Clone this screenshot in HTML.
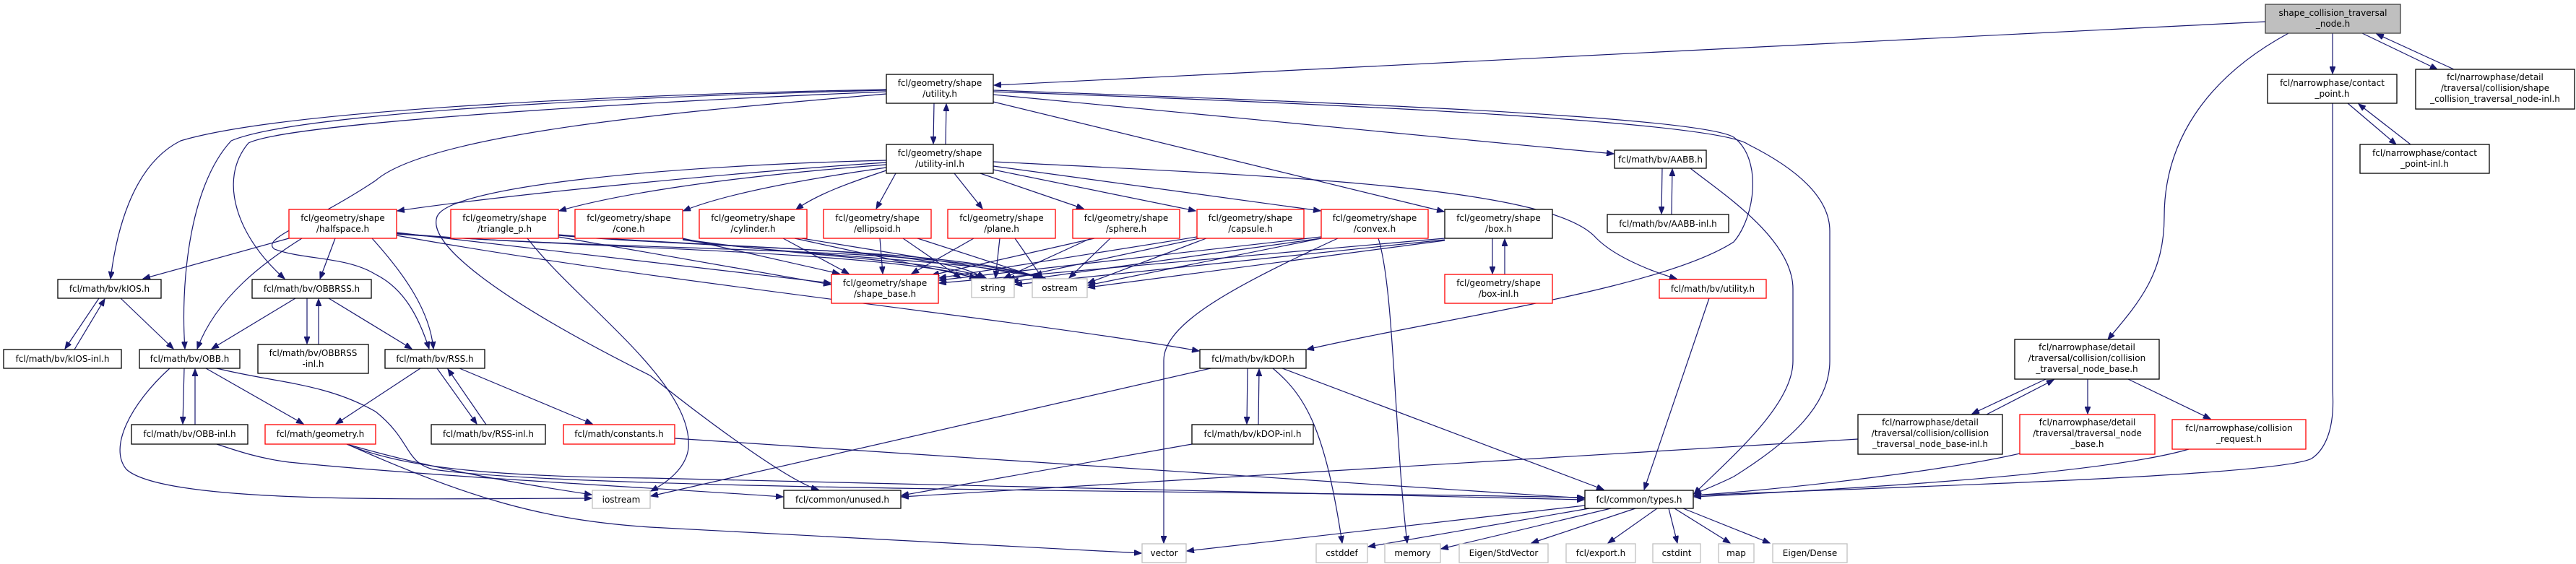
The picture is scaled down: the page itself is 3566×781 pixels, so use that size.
<!DOCTYPE html>
<html><head><meta charset="utf-8"><style>
html,body{margin:0;padding:0;background:#fff;}
svg{display:block;}
text{font-family:"DejaVu Sans","Liberation Sans",sans-serif;font-size:12px;fill:#000;text-anchor:middle;}
.e{fill:none;stroke:#191970;stroke-width:1.2;marker-end:url(#a);}
.b{fill:#fff;stroke:#000;stroke-width:1.3;}
.r{fill:#fff;stroke:#ff0000;stroke-width:1.3;}
.g{fill:#fff;stroke:#bfbfbf;stroke-width:1.3;}
</style></head><body>
<svg width="3566" height="781" viewBox="0 0 3566 781" xmlns="http://www.w3.org/2000/svg">
<defs><marker id="a" markerUnits="userSpaceOnUse" markerWidth="11" markerHeight="8" refX="10" refY="4" orient="auto"><path d="M0,0 L10,4 L0,8 z" fill="#191970" stroke="#191970"/></marker></defs>
<g>
<path class="e" d="M3136,30 L1376,118"/>
<path class="e" d="M3229,46 L3229,102"/>
<path class="e" d="M3270,46 L3374,96"/>
<path class="e" d="M3397,96 L3290,47"/>
<path class="e" d="M3168,46 C3050,110 2996,200 2996,300 C2996,380 2960,420 2918,470"/>
<path class="e" d="M3250,143 L3317,200"/>
<path class="e" d="M3337,200 L3265,144"/>
<path class="e" d="M3229,143 L3229,540 C3233,600 3215,625 3200,635 C3150,660 2600,675 2345,686"/>
<path class="e" d="M1293,143 L1292,199"/>
<path class="e" d="M1309,200 L1310,144"/>
<path class="e" d="M1227,124 C900,130 400,150 250,195 C180,230 160,330 153,386"/>
<path class="e" d="M1227,125 C800,135 400,160 320,195 C260,260 250,400 256,483"/>
<path class="e" d="M1227,127 C900,140 400,170 344,198 C300,250 330,330 394,386"/>
<path class="e" d="M1227,130 C1000,150 600,180 520,250 C430,310 360,330 380,345 C420,360 480,355 520,380 C560,400 580,440 594,483"/>
<path class="e" d="M1375,131 L2234,213"/>
<path class="e" d="M1375,141 L1999,293"/>
<path class="e" d="M1375,125 C1800,140 2350,160 2400,190 C2440,220 2430,300 2400,335 C2300,400 2000,440 1809,484"/>
<path class="e" d="M1375,127 C1900,145 2380,170 2420,200 C2500,240 2533,280 2533,320 L2533,500 C2533,560 2480,610 2400,660 C2380,670 2360,678 2345,684"/>
<path class="e" d="M2301,233 L2300,296"/>
<path class="e" d="M2314,297 L2315,234"/>
<path class="e" d="M2340,233 C2380,265 2482,330 2482,400 L2482,500 C2482,560 2400,630 2345,684"/>
<path class="e" d="M1227,225 C1000,240 700,270 550,292"/>
<path class="e" d="M1227,228 C1000,245 850,270 774,292"/>
<path class="e" d="M1227,232 C1100,250 1000,270 946,292"/>
<path class="e" d="M1227,236 C1170,255 1130,270 1102,290"/>
<path class="e" d="M1240,240 L1213,289"/>
<path class="e" d="M1321,240 L1360,289"/>
<path class="e" d="M1357,240 L1500,289"/>
<path class="e" d="M1375,235 L1655,292"/>
<path class="e" d="M1375,230 L1828,292"/>
<path class="e" d="M1375,224 C1800,245 2150,260 2210,330 C2240,360 2300,380 2321,386"/>
<path class="e" d="M1227,222 C900,230 620,260 605,300 C590,340 700,420 900,520 C1000,600 1100,670 1133,678"/>
<path class="e" d="M549,322 L1150,392"/>
<path class="e" d="M549,323 C800,345 1200,345 1360,385"/>
<path class="e" d="M549,324 C900,350 1300,340 1440,385"/>
<path class="e" d="M549,326 C900,390 1400,440 1660,486"/>
<path class="e" d="M773,328 L1150,394"/>
<path class="e" d="M773,325 C1000,345 1300,342 1362,385"/>
<path class="e" d="M773,326 C1000,345 1330,345 1442,385"/>
<path class="e" d="M945,330 L1162,379"/>
<path class="e" d="M945,331 C1100,355 1300,360 1365,385"/>
<path class="e" d="M945,332 C1100,355 1350,360 1445,385"/>
<path class="e" d="M1084,330 L1175,379"/>
<path class="e" d="M1100,330 L1352,385"/>
<path class="e" d="M1110,330 L1447,385"/>
<path class="e" d="M1218,330 L1222,379"/>
<path class="e" d="M1250,330 L1330,385"/>
<path class="e" d="M1270,330 L1440,385"/>
<path class="e" d="M1348,330 L1262,379"/>
<path class="e" d="M1384,330 L1378,385"/>
<path class="e" d="M1405,330 L1443,385"/>
<path class="e" d="M1515,330 L1290,381"/>
<path class="e" d="M1510,330 L1390,385"/>
<path class="e" d="M1537,330 L1480,385"/>
<path class="e" d="M1657,328 L1300,385"/>
<path class="e" d="M1660,330 L1395,387"/>
<path class="e" d="M1670,330 L1506,392"/>
<path class="e" d="M1829,328 L1300,388"/>
<path class="e" d="M1829,330 L1400,390"/>
<path class="e" d="M1829,330 L1506,395"/>
<path class="e" d="M1852,330 C1700,400 1610,450 1611,500 L1611,752"/>
<path class="e" d="M1908,330 C1930,400 1930,600 1948,752"/>
<path class="e" d="M2000,330 L1300,392"/>
<path class="e" d="M2000,332 L1405,394"/>
<path class="e" d="M2000,333 L1506,398"/>
<path class="e" d="M2066,330 L2066,379"/>
<path class="e" d="M2083,380 L2083,331"/>
<path class="e" d="M400,330 L198,386"/>
<path class="e" d="M418,330 C370,360 300,410 273,483"/>
<path class="e" d="M464,330 L443,386"/>
<path class="e" d="M515,330 C560,380 595,430 600,483"/>
<path class="e" d="M730,330 C800,420 960,530 953,620 C950,650 920,670 901,680"/>
<path class="e" d="M137,413 L90,483"/>
<path class="e" d="M103,484 L145,414"/>
<path class="e" d="M167,413 L240,483"/>
<path class="e" d="M409,413 L293,483"/>
<path class="e" d="M425,413 L425,476"/>
<path class="e" d="M441,477 L441,414"/>
<path class="e" d="M455,413 L570,483"/>
<path class="e" d="M255,510 L253,587"/>
<path class="e" d="M270,588 L270,511"/>
<path class="e" d="M285,510 L420,587"/>
<path class="e" d="M235,510 C180,560 150,620 175,650 C230,700 600,690 819,690"/>
<path class="e" d="M300,510 C380,530 450,530 520,570 C570,610 560,640 600,650 C800,680 1800,680 2193,689"/>
<path class="e" d="M582,510 L465,587"/>
<path class="e" d="M605,510 L660,587"/>
<path class="e" d="M673,588 L620,511"/>
<path class="e" d="M636,510 L820,587"/>
<path class="e" d="M300,615 C330,625 360,635 400,640 C600,660 900,675 1084,688"/>
<path class="e" d="M480,615 C600,650 720,670 819,685"/>
<path class="e" d="M480,615 C560,650 700,660 900,662 L2193,692"/>
<path class="e" d="M480,615 C650,690 750,720 900,730 L1580,766"/>
<path class="e" d="M934,607 L2193,690"/>
<path class="e" d="M1727,510 L1726,587"/>
<path class="e" d="M1742,588 L1743,511"/>
<path class="e" d="M1676,510 L901,687"/>
<path class="e" d="M1762,510 C1810,550 1835,600 1858,752"/>
<path class="e" d="M1775,510 L2220,678"/>
<path class="e" d="M1650,615 L1248,686"/>
<path class="e" d="M2366,413 L2276,678"/>
<path class="e" d="M2194,700 L1643,763"/>
<path class="e" d="M2200,704 L1894,757"/>
<path class="e" d="M2230,704 L1995,760"/>
<path class="e" d="M2264,704 L2120,752"/>
<path class="e" d="M2294,704 L2226,752"/>
<path class="e" d="M2310,704 L2322,752"/>
<path class="e" d="M2318,704 L2395,752"/>
<path class="e" d="M2330,704 L2450,752"/>
<path class="e" d="M2832,525 L2730,573"/>
<path class="e" d="M2750,574 L2843,526"/>
<path class="e" d="M2890,525 L2890,573"/>
<path class="e" d="M2946,525 L3060,580"/>
<path class="e" d="M2572,608 L1248,688"/>
<path class="e" d="M2796,628 C2700,650 2500,675 2345,686"/>
<path class="e" d="M3030,622 C2900,660 2500,680 2345,688"/>
</g>
<g>
<rect x="3136" y="6" width="187" height="40" fill="#bfbfbf" stroke="#404040" stroke-width="1.3"/><text x="3229.5" y="22">shape_collision_traversal</text><text x="3229.5" y="37">_node.h</text>
<rect class="b" x="1227" y="103" width="148" height="40"/><text x="1301" y="119">fcl/geometry/shape</text><text x="1301" y="134">/utility.h</text>
<rect class="b" x="1227" y="200" width="148" height="40"/><text x="1301" y="216">fcl/geometry/shape</text><text x="1301" y="231">/utility-inl.h</text>
<rect class="b" x="3139" y="103" width="179" height="40"/><text x="3228.5" y="119">fcl/narrowphase/contact</text><text x="3228.5" y="134">_point.h</text>
<rect class="b" x="3344" y="96" width="220" height="55"/><text x="3454" y="111">fcl/narrowphase/detail</text><text x="3454" y="126">/traversal/collision/shape</text><text x="3454" y="141">_collision_traversal_node-inl.h</text>
<rect class="b" x="3267" y="200" width="179" height="40"/><text x="3356.5" y="216">fcl/narrowphase/contact</text><text x="3356.5" y="231">_point-inl.h</text>
<rect class="b" x="2235" y="208" width="127" height="25"/><text x="2298.5" y="225">fcl/math/bv/AABB.h</text>
<rect class="b" x="2225" y="297" width="168" height="25"/><text x="2309" y="314">fcl/math/bv/AABB-inl.h</text>
<rect class="r" x="400" y="290" width="149" height="40"/><text x="474.5" y="306">fcl/geometry/shape</text><text x="474.5" y="321">/halfspace.h</text>
<rect class="r" x="624" y="290" width="149" height="40"/><text x="698.5" y="306">fcl/geometry/shape</text><text x="698.5" y="321">/triangle_p.h</text>
<rect class="r" x="796" y="290" width="149" height="40"/><text x="870.5" y="306">fcl/geometry/shape</text><text x="870.5" y="321">/cone.h</text>
<rect class="r" x="968" y="290" width="149" height="40"/><text x="1042.5" y="306">fcl/geometry/shape</text><text x="1042.5" y="321">/cylinder.h</text>
<rect class="r" x="1140" y="290" width="149" height="40"/><text x="1214.5" y="306">fcl/geometry/shape</text><text x="1214.5" y="321">/ellipsoid.h</text>
<rect class="r" x="1312" y="290" width="149" height="40"/><text x="1386.5" y="306">fcl/geometry/shape</text><text x="1386.5" y="321">/plane.h</text>
<rect class="r" x="1485" y="290" width="148" height="40"/><text x="1559" y="306">fcl/geometry/shape</text><text x="1559" y="321">/sphere.h</text>
<rect class="r" x="1657" y="290" width="148" height="40"/><text x="1731" y="306">fcl/geometry/shape</text><text x="1731" y="321">/capsule.h</text>
<rect class="r" x="1829" y="290" width="148" height="40"/><text x="1903" y="306">fcl/geometry/shape</text><text x="1903" y="321">/convex.h</text>
<rect class="b" x="2000" y="290" width="149" height="40"/><text x="2074.5" y="306">fcl/geometry/shape</text><text x="2074.5" y="321">/box.h</text>
<rect class="b" x="80" y="387" width="143" height="26"/><text x="151.5" y="404">fcl/math/bv/kIOS.h</text>
<rect class="b" x="349" y="387" width="165" height="26"/><text x="431.5" y="404">fcl/math/bv/OBBRSS.h</text>
<rect class="r" x="1151" y="380" width="148" height="40"/><text x="1225" y="396">fcl/geometry/shape</text><text x="1225" y="411">/shape_base.h</text>
<rect class="g" x="1345" y="386" width="59" height="26"/><text x="1374.5" y="403">string</text>
<rect class="g" x="1429" y="386" width="76" height="26"/><text x="1467" y="403">ostream</text>
<rect class="r" x="2000" y="380" width="149" height="40"/><text x="2074.5" y="396">fcl/geometry/shape</text><text x="2074.5" y="411">/box-inl.h</text>
<rect class="r" x="2297" y="387" width="148" height="26"/><text x="2371" y="404">fcl/math/bv/utility.h</text>
<rect class="b" x="5" y="484" width="163" height="26"/><text x="86.5" y="501">fcl/math/bv/kIOS-inl.h</text>
<rect class="b" x="193" y="484" width="139" height="26"/><text x="262.5" y="501">fcl/math/bv/OBB.h</text>
<rect class="b" x="357" y="477" width="153" height="40"/><text x="433.5" y="493">fcl/math/bv/OBBRSS</text><text x="433.5" y="508">-inl.h</text>
<rect class="b" x="533" y="484" width="138" height="26"/><text x="602" y="501">fcl/math/bv/RSS.h</text>
<rect class="b" x="1661" y="484" width="147" height="26"/><text x="1734.5" y="501">fcl/math/bv/kDOP.h</text>
<rect class="b" x="2789" y="470" width="200" height="55"/><text x="2889" y="485">fcl/narrowphase/detail</text><text x="2889" y="500">/traversal/collision/collision</text><text x="2889" y="515">_traversal_node_base.h</text>
<rect class="b" x="2572" y="574" width="200" height="55"/><text x="2672" y="589">fcl/narrowphase/detail</text><text x="2672" y="604">/traversal/collision/collision</text><text x="2672" y="619">_traversal_node_base-inl.h</text>
<rect class="r" x="2796" y="574" width="187" height="55"/><text x="2889.5" y="589">fcl/narrowphase/detail</text><text x="2889.5" y="604">/traversal/traversal_node</text><text x="2889.5" y="619">_base.h</text>
<rect class="r" x="3007" y="581" width="185" height="41"/><text x="3099.5" y="597">fcl/narrowphase/collision</text><text x="3099.5" y="612">_request.h</text>
<rect class="b" x="182" y="588" width="161" height="27"/><text x="262.5" y="605">fcl/math/bv/OBB-inl.h</text>
<rect class="r" x="367" y="588" width="153" height="27"/><text x="443.5" y="605">fcl/math/geometry.h</text>
<rect class="b" x="597" y="588" width="158" height="27"/><text x="676" y="605">fcl/math/bv/RSS-inl.h</text>
<rect class="r" x="780" y="588" width="154" height="27"/><text x="857" y="605">fcl/math/constants.h</text>
<rect class="b" x="1650" y="588" width="168" height="27"/><text x="1734" y="605">fcl/math/bv/kDOP-inl.h</text>
<rect class="g" x="820" y="679" width="80" height="25"/><text x="860" y="696">iostream</text>
<rect class="b" x="1085" y="679" width="162" height="25"/><text x="1166" y="696">fcl/common/unused.h</text>
<rect class="b" x="2194" y="679" width="150" height="25"/><text x="2269" y="696">fcl/common/types.h</text>
<rect class="g" x="1581" y="753" width="61" height="26"/><text x="1611.5" y="770">vector</text>
<rect class="g" x="1822" y="753" width="71" height="26"/><text x="1857.5" y="770">cstddef</text>
<rect class="g" x="1917" y="753" width="77" height="26"/><text x="1955.5" y="770">memory</text>
<rect class="g" x="2020" y="753" width="123" height="26"/><text x="2081.5" y="770">Eigen/StdVector</text>
<rect class="g" x="2168" y="753" width="96" height="26"/><text x="2216" y="770">fcl/export.h</text>
<rect class="g" x="2288" y="753" width="66" height="26"/><text x="2321" y="770">cstdint</text>
<rect class="g" x="2379" y="753" width="49" height="26"/><text x="2403.5" y="770">map</text>
<rect class="g" x="2454" y="753" width="103" height="26"/><text x="2505.5" y="770">Eigen/Dense</text>
</g>
</svg>
</body></html>
